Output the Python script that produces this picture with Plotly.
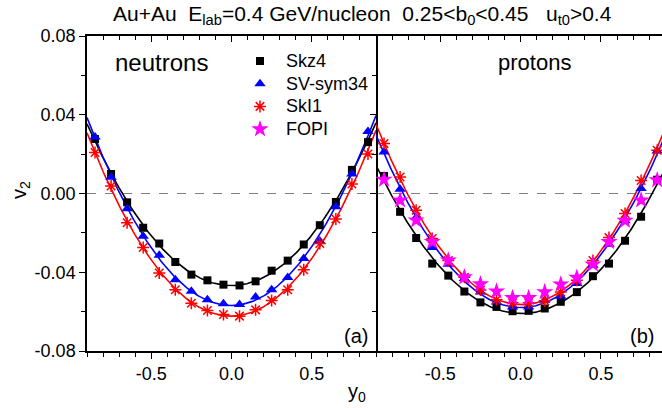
import numpy as np
import plotly.graph_objects as go

# rapidity bins (same for every series)
y0 = [-0.85, -0.75, -0.65, -0.55, -0.45, -0.35, -0.25, -0.15, -0.05,
      0.05, 0.15, 0.25, 0.35, 0.45, 0.55, 0.65, 0.75, 0.85]

# (a) neutrons
n_skz4 = [0.0277, 0.0099, -0.0045, -0.0174, -0.0254, -0.0348, -0.0412, -0.0441, -0.0463,
          -0.0467, -0.0446, -0.0392, -0.0341, -0.0259, -0.0161, -0.0043, 0.0120, 0.0261]
n_svsym34 = [0.0287, 0.0083, -0.0077, -0.0217, -0.0314, -0.0438, -0.0496, -0.0540, -0.0560,
             -0.0564, -0.0526, -0.0489, -0.0427, -0.0330, -0.0241, -0.0067, 0.0099, 0.0315]
n_ski1 = [0.0208, 0.0038, -0.0149, -0.0274, -0.0404, -0.0489, -0.0557, -0.0594, -0.0615,
          -0.0623, -0.0591, -0.0543, -0.0489, -0.0387, -0.0254, -0.0130, 0.0048, 0.0201]

# (b) protons
p_skz4 = [0.0089, -0.0093, -0.0226, -0.0356, -0.0417, -0.0498, -0.0553, -0.0576, -0.0598,
          -0.0596, -0.0584, -0.0550, -0.0501, -0.0420, -0.0356, -0.0240, -0.0118, 0.0070]
p_svsym34 = [0.0211, 0.0022, -0.0122, -0.0274, -0.0359, -0.0432, -0.0500, -0.0551, -0.0576,
             -0.0576, -0.0542, -0.0522, -0.0457, -0.0364, -0.0258, -0.0139, 0.0025, 0.0216]
p_ski1 = [0.0254, 0.0084, -0.0085, -0.0229, -0.0340, -0.0425, -0.0490, -0.0540, -0.0555,
          -0.0555, -0.0545, -0.0500, -0.0440, -0.0340, -0.0224, -0.0102, 0.0066, 0.0220]
p_fopi = [0.0071, -0.0034, -0.0136, -0.0245, -0.0339, -0.0425, -0.0460, -0.0497, -0.0530,
          -0.0530, -0.0500, -0.0461, -0.0427, -0.0360, -0.0246, -0.0138, -0.0034, 0.0068]

x_ticks = [-0.5, 0.0, 0.5]
x_ticktext = ["-0.5", "0.0", "0.5"]
y_ticks = [-0.08, -0.04, 0.0, 0.04, 0.08]
y_ticktext = ["-0.08", "-0.04", "0.00", "0.04", "0.08"]

legend_names = ["Skz4", "SV-sym34", "SkI1", "FOPI"]

FONT = "Liberation Sans, Arial, sans-serif"
BLACK, BLUE, RED, MAGENTA = "#000000", "#0000ff", "#ff0000", "#ff00ff"

MARKERS = {
    "Skz4": dict(symbol="square", size=8, color=BLACK),
    "SV-sym34": dict(symbol="triangle-up", size=10, color=BLUE),
    "SkI1": dict(symbol="asterisk-open", size=10, color=RED, line=dict(color=RED, width=1.5)),
    "FOPI": dict(symbol="star", size=13, color=MAGENTA, line=dict(width=0)),
}

# plot area in pixels
L, T, R, B = 87, 36, 662, 351
PW, PH = R - L, B - T
split_px = 376


def px_to_left(px, py):
    # pixel position -> data coords of panel (a), used for the hand-made legend
    return (px - L) / (split_px - L) * 1.8 - 0.9, (B - py) / PH * 0.16 - 0.08


def fit_curve(x, v):
    # quadratic fit of the points, as drawn in the original figure
    c = np.polyfit(x, v, 2)
    xs = np.linspace(-0.9, 0.9, 200)
    return xs, np.polyval(c, xs)


fig = go.Figure()

panels = [
    ("x", "y", [("Skz4", n_skz4, BLACK), ("SV-sym34", n_svsym34, BLUE), ("SkI1", n_ski1, RED)], None),
    ("x2", "y2", [("Skz4", p_skz4, BLACK), ("SV-sym34", p_svsym34, BLUE), ("SkI1", p_ski1, RED)], p_fopi),
]

for xa, ya, series, fopi in panels:
    for name, vals, col in series:
        xs, ys = fit_curve(y0, vals)
        fig.add_trace(go.Scatter(x=xs, y=ys, mode="lines", line=dict(color=col, width=1.6),
                                 xaxis=xa, yaxis=ya, showlegend=False, hoverinfo="skip"))
    for name, vals, col in series:
        fig.add_trace(go.Scatter(x=y0, y=vals, mode="markers", marker=MARKERS[name], name=name,
                                 xaxis=xa, yaxis=ya, showlegend=False))
    if fopi is not None:
        fig.add_trace(go.Scatter(x=y0, y=fopi, mode="markers", marker=MARKERS["FOPI"], name="FOPI",
                                 xaxis=xa, yaxis=ya, showlegend=False))

# empty traces so the inside-tick mirror axes get drawn
for xa, ya in [("x3", "y"), ("x4", "y2"), ("x", "y3")]:
    fig.add_trace(go.Scatter(x=[None], y=[None], xaxis=xa, yaxis=ya, showlegend=False, hoverinfo="skip"))

# hand-placed legend (symbol + label) inside panel (a)
leg_x, leg_y0, leg_dy = 260, 61, 22.7
for i, name in enumerate(legend_names):
    lx, ly = px_to_left(leg_x, leg_y0 + i * leg_dy)
    fig.add_trace(go.Scatter(x=[lx], y=[ly], mode="markers", marker=MARKERS[name], xaxis="x", yaxis="y",
                             showlegend=False, hoverinfo="skip"))
    fig.add_annotation(text=name, x=(284 - L) / PW, y=(B - (leg_y0 + i * leg_dy)) / PH,
                       xref="paper", yref="paper", showarrow=False, xanchor="left", yanchor="middle",
                       font=dict(size=18, color="black", family=FONT))

split = (split_px - L) / PW

xbase = dict(showline=True, linecolor="black", linewidth=1.5, mirror=True, showgrid=False, zeroline=False,
             ticks="outside", ticklen=6, tickwidth=1.2, tickcolor="black", automargin=False,
             tickmode="array", tickvals=x_ticks, ticktext=x_ticktext,
             tickfont=dict(size=18, color="black"),
             minor=dict(ticks="outside", ticklen=4, tickwidth=1.2, tickcolor="black", dtick=0.1, tick0=0))
ybase = dict(range=[-0.08, 0.08], showgrid=False, zeroline=False, linecolor="black",
             linewidth=1.5, automargin=False)
top_ticks = dict(side="top", showticklabels=False, showgrid=False, zeroline=False, ticks="inside",
                 ticklen=6, tickwidth=1.2, tickcolor="black", tick0=0, dtick=0.5, automargin=False,
                 minor=dict(ticks="inside", ticklen=4, tickwidth=1.2, tickcolor="black", dtick=0.1))

fig.update_layout(
    width=662, height=408,
    margin=dict(l=L, r=662 - R, t=T, b=408 - B),
    paper_bgcolor="white", plot_bgcolor="white",
    font=dict(family=FONT, color="black", size=18),
    xaxis=dict(xbase, domain=[0, split], range=[-0.9, 0.9], anchor="y"),
    xaxis2=dict(xbase, domain=[split, 1], range=[-0.9, 0.88], anchor="y2"),
    xaxis3=dict(top_ticks, overlaying="x", anchor="y", range=[-0.9, 0.9]),
    xaxis4=dict(top_ticks, overlaying="x2", anchor="y2", range=[-0.9, 0.88]),
    yaxis=dict(ybase, domain=[0, 1], anchor="x", showline=True, mirror=True, ticks="outside", ticklen=6,
               tickwidth=1.2, tickcolor="black", tickmode="array", tickvals=y_ticks, ticktext=y_ticktext,
               tickfont=dict(size=18, color="black"),
               minor=dict(ticks="outside", ticklen=4, tickwidth=1.2, tickcolor="black", dtick=0.02, tick0=0)),
    yaxis2=dict(ybase, domain=[0, 1], anchor="x2", showline=False, ticks="", showticklabels=False),
    yaxis3=dict(overlaying="y", anchor="x", side="right", range=[-0.08, 0.08], showticklabels=False,
                showgrid=False, zeroline=False, ticks="inside", ticklen=6, tickwidth=1.2,
                tickcolor="black", tick0=0, dtick=0.04, automargin=False,
                minor=dict(ticks="inside", ticklen=4, tickwidth=1.2, tickcolor="black", dtick=0.02)),
    showlegend=False,
    shapes=[dict(type="line", xref="paper", x0=0, x1=1, yref="y", y0=0, y1=0, layer="below",
                 line=dict(color="#808080", width=1, dash="dash"))],
)

ann = [
    ("Au+Au&nbsp;&nbsp;E<sub>lab</sub>=0.4 GeV/nucleon&nbsp;&nbsp;0.25&lt;b<sub>0</sub>&lt;0.45&nbsp;&nbsp;&nbsp;u<sub>t0</sub>&gt;0.4",
     (362 - L) / PW, (B - 15) / PH, 21, 0),
    ("neutrons", (161 - L) / PW, (B - 62) / PH, 24, 0),
    ("protons", (534 - L) / PW, (B - 62) / PH, 22, 0),
    ("(a)", (356 - L) / PW, (B - 336) / PH, 20, 0),
    ("(b)", (642 - L) / PW, (B - 336) / PH, 20, 0),
    ("v<sub>2</sub>", (20 - L) / PW, (B - 190) / PH, 20, -90),
    ("y<sub>0</sub>", (357 - L) / PW, (B - 392) / PH, 20, 0),
]
for text, ax, ay, size, ang in ann:
    fig.add_annotation(text=text, x=ax, y=ay, xref="paper", yref="paper", showarrow=False,
                       xanchor="center", yanchor="middle", textangle=ang,
                       font=dict(size=size, color="black", family=FONT))

# the page body has a default 8px margin; drop it so the figure sits at the window origin
fig.write_html("out.html", config={"displayModeBar": False},
               post_script="document.body.style.margin='0';")
